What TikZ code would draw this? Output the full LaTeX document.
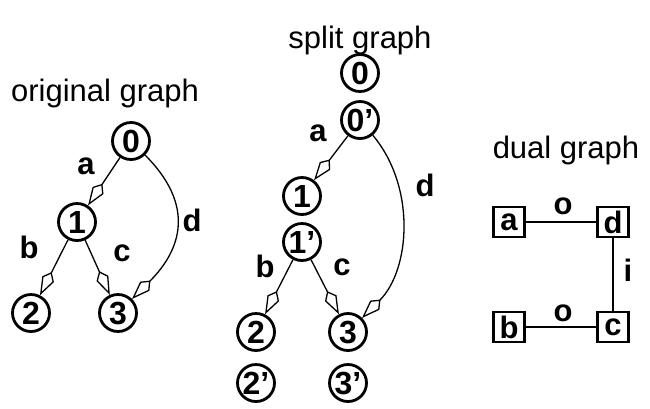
\documentclass[tikz,border=0pt]{standalone}
\usepackage{fontspec}
\setmainfont{Liberation Sans}
\usetikzlibrary{arrows.meta}
\begin{document}
\begin{tikzpicture}[x=1pt,y=-1pt,
  vert/.style={circle,draw,line width=2.8pt,minimum size=37pt,inner sep=0pt,font=\fontsize{32}{32}\selectfont\bfseries},
  dbox/.style={rectangle,draw,line width=2.8pt,minimum width=31pt,minimum height=30pt,inner sep=0pt,font=\fontsize{31}{31}\selectfont\bfseries},
  lbl/.style={font=\fontsize{31}{31}\selectfont\bfseries,inner sep=0pt},
  ttl/.style={font=\fontsize{31}{31}\selectfont,inner sep=0pt},
  arr/.style={line width=1.3pt,-{Kite[open,length=26pt,width=13pt,inset=8pt]}},
  edge/.style={line width=1.3pt}]
\useasboundingbox (0,0) rectangle (650,408);
% original graph
\node[ttl] (t1) at (105,93) {original graph};
\node[vert] (o0) at (131,141) {0};
\node[vert] (o1) at (77,222) {1};
\node[vert] (o2) at (31,313) {2};
\node[vert] (o3) at (118,313) {3};
\draw[arr] (o0) -- (o1);
\draw[arr] (o1) -- (o2);
\draw[arr] (o1) -- (o3);
\draw[arr] (o0) to[out=-45,in=45,looseness=1.25] (o3);
\node[lbl] (la) at (86,166) {a};
\node[lbl] (lb) at (29,247) {b};
\node[lbl] (lc) at (122,253) {c};
\node[lbl] (ld) at (192,220) {d};
% split graph
\node[ttl] (t2) at (360,40) {split graph};
\node[vert] (s0) at (360,73) {0};
\node[vert] (s0p) at (360,120) {0’};
\node[vert] (s1) at (302,196) {1};
\node[vert] (s1p) at (302,242) {1’};
\node[vert] (s2) at (256,332) {2};
\node[vert] (s3) at (348,332) {3};
\node[vert] (s2p) at (256,383) {2’};
\node[vert] (s3p) at (348,383) {3’};
\draw[arr] (s0p) -- (s1);
\draw[arr] (s1p) -- (s2);
\draw[arr] (s1p) -- (s3);
\draw[arr] (s0p) to[out=-50,in=45,looseness=0.95] (s3);
\node[lbl] (sa) at (318,133) {a};
\node[lbl] (sb) at (265,266) {b};
\node[lbl] (sc) at (342,267) {c};
\node[lbl] (sd) at (425,185) {d};
% dual graph
\node[ttl] (t3) at (566,150) {dual graph};
\node[dbox] (da) at (509,222) {a};
\node[dbox] (dd) at (613,222) {d};
\node[dbox] (db) at (509,327) {b};
\node[dbox] (dc) at (613,327) {c};
\draw[edge] (da) -- (dd);
\draw[edge] (db) -- (dc);
\draw[edge] (dd) -- (dc);
\node[lbl] (o1l) at (563,206) {o};
\node[lbl] (o2l) at (563,313) {o};
\node[lbl] (il) at (628,270) {i};
\end{tikzpicture}
\end{document}
